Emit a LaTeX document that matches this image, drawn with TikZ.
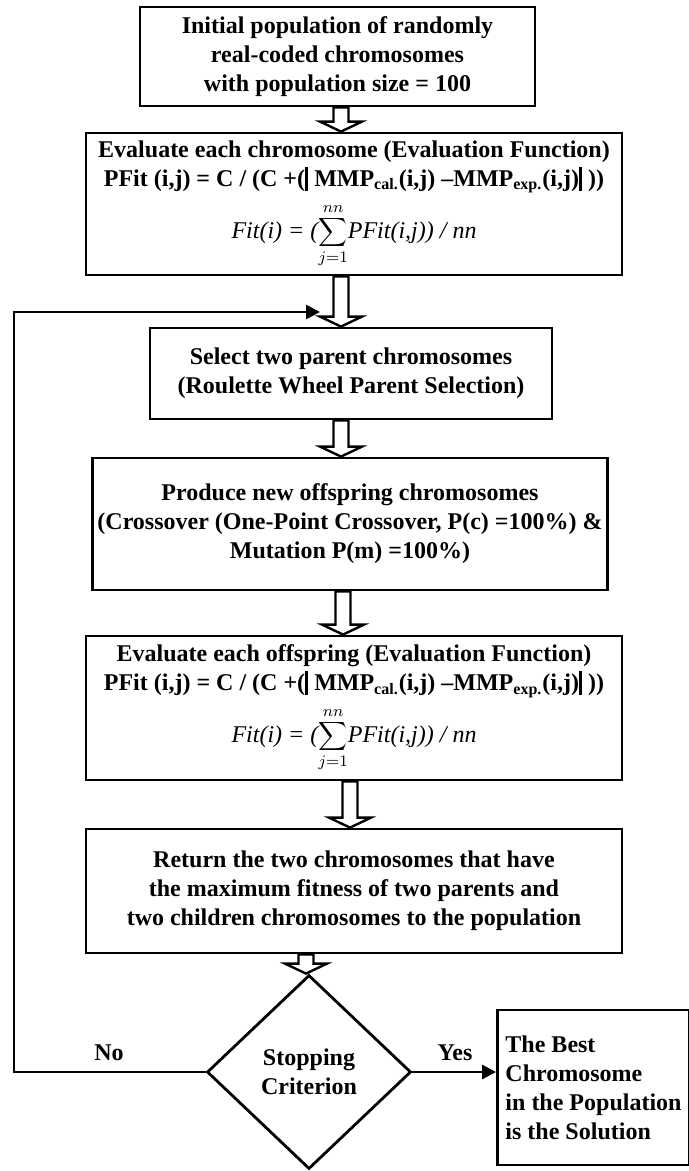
\documentclass[tikz,border=0pt]{standalone}
\usepackage{fontspec}
\setmainfont{Liberation Serif}
\usetikzlibrary{shapes.geometric,arrows.meta,calc}

\newcommand{\absbar}{\rule[-0.2em]{0.13em}{1.0em}}
\newcommand{\pfitline}{PFit (i,j) = C / (C +(\absbar\ MMP\textsubscript{cal.}(i,j) --MMP\textsubscript{exp.}(i,j)\absbar\ ))}
\newcommand{\fitline}{{\mdseries\itshape Fit(i) = (}$\displaystyle\sum_{j=1}^{nn}${\mdseries\itshape PFit(i,j)) / nn}}

\begin{document}
\begin{tikzpicture}[x=0.5pt, y=-0.5pt,
    box/.style = {draw, line width=1.4pt, align=center, inner sep=0pt,
                  font=\fontsize{12}{14.5}\selectfont\bfseries},
    conn/.style = {line width=1.4pt},
    tip/.style = {-{Triangle[length=7pt,width=7pt]}},
    hollow/.style = {draw, fill=white, line width=1.2pt,
        to path={let \p1=(\tikztostart), \p2=(\tikztotarget) in
            (\x1-3.75pt,\y1) -- (\x1-3.75pt,\y2+5pt) -- (\x1-10.5pt,\y2+5pt)
            -- (\x1,\y2) -- (\x1+10.5pt,\y2+5pt) -- (\x1+3.75pt,\y2+5pt)
            -- (\x1+3.75pt,\y1) -- cycle}},
    lbl/.style = {font=\fontsize{12}{14.5}\selectfont\bfseries}]

    \useasboundingbox (0,0) rectangle (689,1171);

    % main column
    \node[box, minimum width=197.5pt, minimum height=49.5pt] (init) at (337.5,56.5)
        {Initial population of randomly\\ real-coded chromosomes\\ with population size = 100};
    \node[box, minimum width=268pt, minimum height=71pt] (evalc) at (354,204)
        {Evaluate each chromosome (Evaluation Function)\\ \pfitline\\[4pt] \fitline};
    \node[box, minimum width=201pt, minimum height=45.5pt] (select) at (351,373.5)
        {Select two parent chromosomes\\ (Roulette Wheel Parent Selection)};
    \node[box, minimum width=257.5pt, minimum height=66pt] (offspr) at (350,524)
        {Produce new offspring chromosomes\\ (Crossover (One-Point Crossover, P(c) =100\%) \&\\ Mutation P(m) =100\%)};
    \node[box, minimum width=268pt, minimum height=72pt] (evalo) at (354,708)
        {Evaluate each offspring (Evaluation Function)\\ \pfitline\\[4pt] \fitline};
    \node[box, minimum width=268pt, minimum height=62pt] (ret) at (354,891)
        {Return the two chromosomes that have\\ the maximum fitness of two parents and\\ two children chromosomes to the population};

    % decision and result
    \node[box, diamond, minimum width=102pt, minimum height=97pt] (stop) at (309,1072)
        {Stopping\\ Criterion};
    \node[box, align=left, inner xsep=4pt, minimum width=94.5pt, minimum height=77.5pt] (best) at (593.5,1087.5)
        {The Best\\ Chromosome\\ in the Population\\ is the Solution};

    % hollow arrows
    \draw[hollow] (341,0 |- init.south) to (341,0 |- evalc.north);
    \draw[hollow] (341,0 |- evalc.south) to (341,0 |- select.north);
    \draw[hollow] (341,0 |- select.south) to (341,0 |- offspr.north);
    \draw[hollow] (343,0 |- offspr.south) to (343,0 |- evalo.north);
    \draw[hollow] (350,0 |- evalo.south) to (350,0 |- ret.north);
    \draw[hollow] (306,0 |- ret.south) to (306,0 |- stop.north);

    % loop back and exit
    \coordinate (merge) at (320,312);
    \draw[conn, tip] (stop.west) -- (14,0 |- stop.west) |- (merge);
    \draw[conn, tip] (stop.east) -- (stop.east -| best.west);
    \node[lbl] (no) at (109,1053) {No};
    \node[lbl] (yes) at (455,1053) {Yes};
\end{tikzpicture}
\end{document}
